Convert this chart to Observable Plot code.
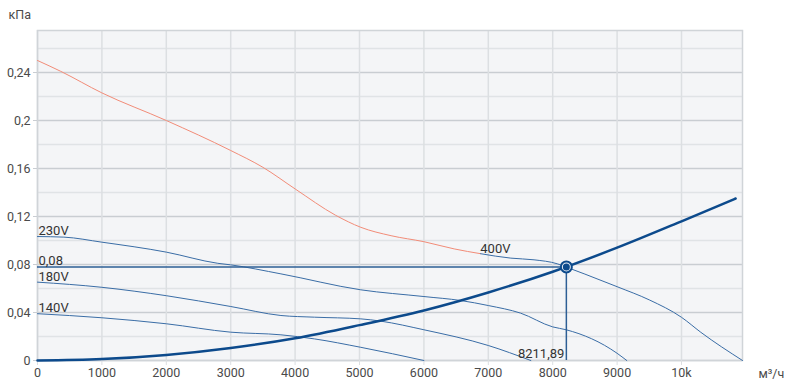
<!DOCTYPE html>
<html>
<head>
<meta charset="utf-8">
<script src="https://cdn.jsdelivr.net/npm/d3@7"></script>
<script src="https://cdn.jsdelivr.net/npm/@observablehq/plot@0.6"></script>
<style>
  html, body { margin: 0; padding: 0; background: #fff; }
  #chart svg { display: block; }
</style>
</head>
<body>
<div id="chart"></div>
<script>
// ---- data ----
const xTicks = [0, 1000, 2000, 3000, 4000, 5000, 6000, 7000, 8000, 9000, 10000];
const yTicks = [0, 0.04, 0.08, 0.12, 0.16, 0.2, 0.24];
const yMinor = [0.02, 0.06, 0.1, 0.14, 0.18, 0.22, 0.26];
const xMax = 10947;
const yMax = 0.275;

// 400V curve: red (left) part and blue (right) part
const flow400Red = [0, 360, 1000, 2000, 3000, 3500, 4000, 4630, 5020, 5490, 6000, 6470, 6880];
const p400Red    = [0.25, 0.241, 0.223, 0.2, 0.175, 0.161, 0.143, 0.121, 0.111, 0.104, 0.099, 0.093, 0.089];
const flow400Blue = [6880, 7350, 7710, 8070, 8212, 8500, 9000, 9500, 10000, 10300, 10947];
const p400Blue    = [0.089, 0.0853, 0.0839, 0.0806, 0.0778, 0.072, 0.0615, 0.0505, 0.036, 0.0235, 0];

const flow230 = [0, 410, 1000, 2000, 2800, 3000, 3780, 5020, 6000, 6570, 7000, 7500, 8000, 8210, 9000, 9150];
const p230    = [0.1033, 0.1028, 0.0986, 0.0903, 0.081, 0.0797, 0.0722, 0.0589, 0.0533, 0.05, 0.0458, 0.0395, 0.028, 0.0256, 0.006, 0];

const flow180 = [0, 1000, 2000, 3000, 3780, 4300, 5020, 5330, 6000, 7000, 7660];
const p180    = [0.0653, 0.061, 0.054, 0.045, 0.0375, 0.0361, 0.0347, 0.0328, 0.0256, 0.0125, 0];

const flow140 = [0, 1000, 2000, 3000, 3780, 4300, 5020, 6000];
const p140    = [0.039, 0.0356, 0.0306, 0.0236, 0.0214, 0.018, 0.011, 0];

// system (network) curve
const flowSys = [0, 1000, 2000, 3000, 4000, 5000, 6000, 7000, 8000, 9000, 10000, 10840];
const pSys    = [0, 0.0012, 0.0046, 0.0104, 0.0185, 0.0295, 0.0417, 0.0567, 0.074, 0.094, 0.116, 0.135];

// operating point
const opFlow = 8211.89;
const opP = 0.078;
const opFlowLabel = "8211,89";
const opPLabel = "0,08";

// curve labels
const curveNames = ["230V", "180V", "140V"];
const curveStartP = [p230[0], p180[0], p140[0]];
const label400 = "400V";
const label400Flow = 7110;
const label400P = 0.0933;

const yUnit = "кПа";
const xUnit = "м³/ч";

// ---- build ----
const toRows = (xs, ys) => xs.map((x, i) => ({x, y: ys[i]}));
const fmtY = d => String(+d.toFixed(2)).replace(".", ",");
const fmtX = d => d >= 10000 ? (d / 1000) + "k" : String(d);

const lineBlue = "#3a6da6";
const dark = "#0c4a8c";
const red = "#f28c78";
const gridMajor = "#c9cdd2";
const gridMinor = "#e0e3e6";
const gridV = "#dcdfe2";
const textCol = "#4a4a4a";

const chart = Plot.plot({
  width: 787,
  height: 391,
  marginLeft: 37,
  marginRight: 45,
  marginTop: 30,
  marginBottom: 31,
  x: {domain: [0, xMax]},
  y: {domain: [0, yMax]},
  style: {fontFamily: "Roboto, sans-serif", fontSize: "12.5px", color: textCol, background: "#fff"},
  marks: [
    Plot.frame({fill: "#f4f5f7", stroke: null}),
    Plot.gridY(yMinor, {stroke: gridMinor, strokeOpacity: 1, strokeWidth: 1.5}),
    Plot.gridY(yTicks, {stroke: gridMajor, strokeOpacity: 1, strokeWidth: 1.5}),
    Plot.gridX(xTicks, {stroke: gridV, strokeOpacity: 1, strokeWidth: 1.5}),
    Plot.frame({stroke: "#d0d4d8", strokeWidth: 1.5}),
    Plot.axisY(yTicks, {tickFormat: fmtY, tickSize: 4, tickPadding: 3, stroke: gridMajor, label: null, fill: textCol}),
    Plot.axisX(xTicks, {tickFormat: fmtX, tickSize: 5, tickPadding: 3, stroke: gridV, label: null, fill: textCol}),
    // fan curves
    Plot.line(toRows(flow230, p230), {x: "x", y: "y", stroke: lineBlue, strokeWidth: 1, curve: "monotone-x"}),
    Plot.line(toRows(flow180, p180), {x: "x", y: "y", stroke: lineBlue, strokeWidth: 1, curve: "monotone-x"}),
    Plot.line(toRows(flow140, p140), {x: "x", y: "y", stroke: lineBlue, strokeWidth: 1, curve: "monotone-x"}),
    Plot.line(toRows(flow400Red, p400Red), {x: "x", y: "y", stroke: red, strokeWidth: 1, curve: "monotone-x"}),
    Plot.line(toRows(flow400Blue, p400Blue), {x: "x", y: "y", stroke: lineBlue, strokeWidth: 1, curve: "monotone-x"}),
    // operating point guides
    Plot.ruleY([opP], {x1: 0, x2: opFlow, stroke: "#2d5e95", strokeWidth: 1.5}),
    Plot.ruleX([opFlow], {y1: 0, y2: opP, stroke: "#2d5e95", strokeWidth: 1.5}),
    // system curve
    Plot.line(toRows(flowSys, pSys), {x: "x", y: "y", stroke: dark, strokeWidth: 2.5, curve: "monotone-x"}),
    // operating point marker
    Plot.dot([{x: opFlow, y: opP}], {x: "x", y: "y", r: 5.5, stroke: dark, strokeWidth: 2, fill: "#e8eef5"}),
    Plot.dot([{x: opFlow, y: opP}], {x: "x", y: "y", r: 3.5, fill: dark, stroke: null}),
    // labels
    Plot.text(curveNames, {x: () => 0, y: (d, i) => curveStartP[i], textAnchor: "start", dx: 1, dy: -5.5, fontSize: 13, fill: "#333"}),
    Plot.text([opPLabel], {x: () => 0, y: () => opP, textAnchor: "start", dx: 1, dy: -6, fontSize: 13, fill: "#333"}),
    Plot.text([label400], {x: () => label400Flow, y: () => label400P, textAnchor: "middle", fontSize: 13, fill: "#333"}),
    Plot.text([opFlowLabel], {x: () => opFlow, y: () => 0, textAnchor: "end", dx: -2, dy: -7, fontSize: 13, fill: "#333"}),
    // axis units
    Plot.text([yUnit], {frameAnchor: "top-left", textAnchor: "start", dx: -29, dy: -20, fontSize: 12.5, fill: textCol}),
    Plot.text([xUnit], {frameAnchor: "bottom-right", textAnchor: "start", dx: 16, dy: 17, fontSize: 12.5, fill: textCol})
  ]
});
document.getElementById("chart").appendChild(chart);
</script>
</body>
</html>
